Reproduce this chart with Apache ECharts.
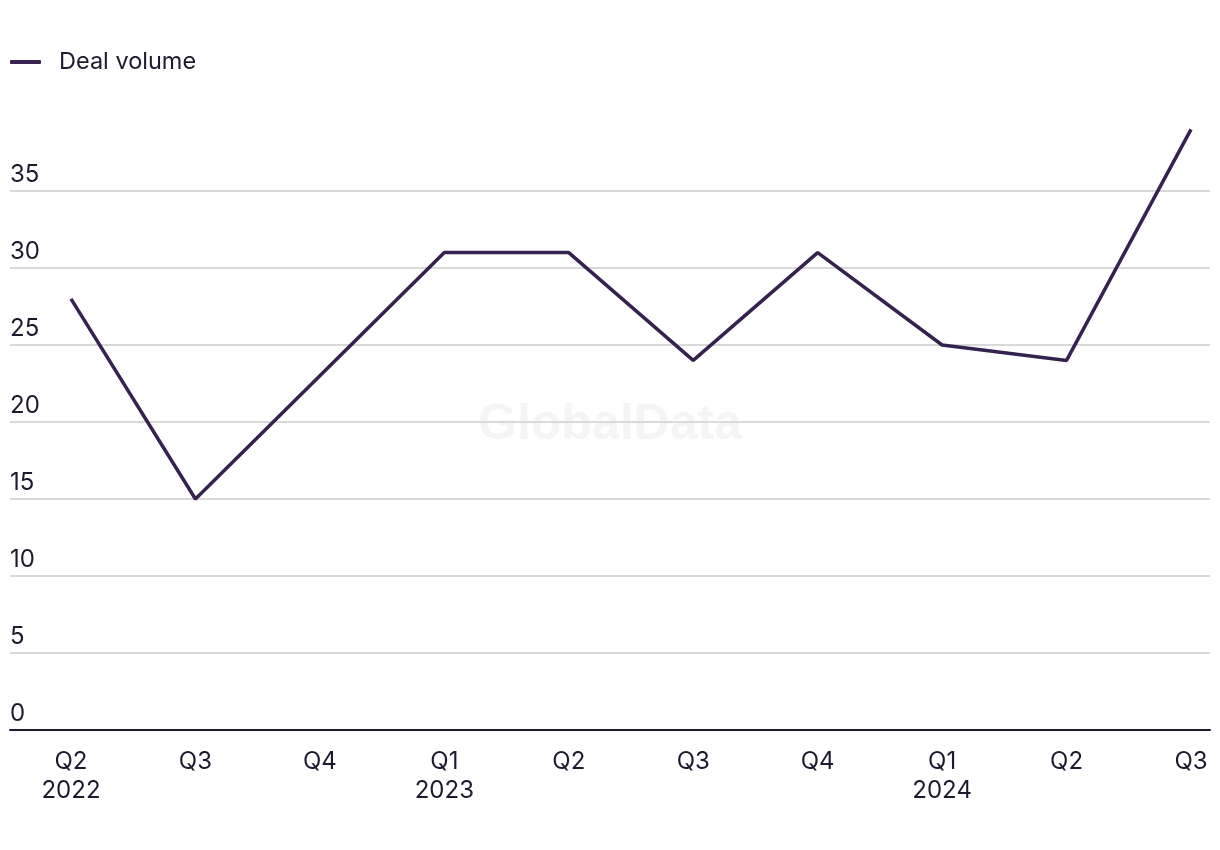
<!DOCTYPE html>
<html>
<head>
<meta charset="utf-8">
<script src="https://cdn.jsdelivr.net/npm/echarts@6/dist/echarts.min.js"></script>
<style>html,body{margin:0;padding:0;background:#fff}#c{width:1220px;height:850px}</style>
</head>
<body>
<div id="c"></div>
<script>
var categories = ['Q2\n2022','Q3','Q4','Q1\n2023','Q2','Q3','Q4','Q1\n2024','Q2','Q3'];
var dealVolume = [28, 15, 23, 31, 31, 24, 31, 25, 24, 39];
var seriesName = 'Deal volume';

var FONT = 'Inter';
var TXT = '#1c1b2e';
var LINE = '#35224f';
var chart = echarts.init(document.getElementById('c'));
chart.setOption({
  backgroundColor: '#fff',
  animation: false,
  textStyle: { fontFamily: FONT },
  legend: {
    left: 10, top: 50, padding: 0,
    itemWidth: 31, itemHeight: 4,
    icon: 'roundRect',
    textStyle: { fontFamily: FONT, fontSize: 23.5, color: TXT, padding: [0,0,0,13] },
    data: [seriesName]
  },
  graphic: [{
    type: 'text', left: 'center', top: 400, z: -10,
    style: { text: 'GlobalData', fontFamily: 'Liberation Sans', fontWeight: 'bold', fontSize: 50, fill: '#f5f5f5' }
  }],
  grid: [
    { left: 10, right: 10, top: 191, bottom: 120 },
    { left: 71, right: 29, top: 114, bottom: 120 }
  ],
  xAxis: [
    { type: 'category', gridIndex: 0, data: categories, boundaryGap: false,
      axisLine: { show: true, lineStyle: { color: TXT, width: 2 } },
      axisTick: { show: false }, axisLabel: { show: false }, splitLine: { show: false } },
    { type: 'category', gridIndex: 1, data: categories, boundaryGap: false,
      axisLine: { show: false }, axisTick: { show: false },
      axisLabel: { fontFamily: FONT, fontSize: 24, color: TXT, margin: 17, lineHeight: 29, interval: 0 } }
  ],
  yAxis: [
    { type: 'value', gridIndex: 0, min: 0, max: 35, interval: 5,
      axisLine: { show: false }, axisTick: { show: false },
      axisLabel: { inside: true, margin: 0, verticalAlign: 'bottom', padding: [0,0,4,0], fontFamily: FONT, fontSize: 24, color: TXT },
      splitLine: { show: true, lineStyle: { color: '#d9d9d9', width: 2 } } },
    { type: 'value', gridIndex: 1, min: 0, max: 40, show: false, splitLine: { show: false } }
  ],
  series: [{
    name: seriesName, type: 'line', xAxisIndex: 1, yAxisIndex: 1,
    data: dealVolume, showSymbol: false, symbol: 'none',
    lineStyle: { color: LINE, width: 3.5 }, itemStyle: { color: LINE }
  }]
});
</script>
</body>
</html>
